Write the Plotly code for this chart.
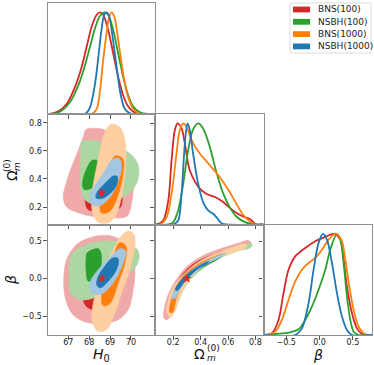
import plotly.graph_objects as go

W, H = 374, 365

SERIES = ["BNS(100)", "NSBH(100)", "BNS(1000)", "NSBH(1000)"]
COLORS = ["#d62728", "#2ca02c", "#ff7f0e", "#1f77b4"]
LIGHT = ["#f0a9a9", "#acd6a2", "#fdcfa1", "#a3c7e2"]

TRUTH_H0, TRUTH_OM, TRUTH_BETA = 68.6, 0.30, 0.0

H0_TICKS = [67, 68, 69, 70]
OM_TICKS = [0.2, 0.4, 0.6, 0.8]
OM_TICKTEXT = ["0.2", "0.4", "0.6", "0.8"]
BETA_TICKS = [-0.5, 0.0, 0.5]
BETA_TICKTEXT = ["\u22120.5", "0.0", "0.5"]
OM_PDF_TICKS = [0.17, 0.45, 0.73, 1.0]
BETA_PDF_TICKS = [0.182, 0.563, 0.927]

H0_RANGE = [66.03, 71.15]
OM_X_RANGE = [0.067, 0.859]
OM_Y_RANGE = [0.076, 0.862]
BETA_Y_RANGE = [-0.75, 0.717]
BETA_X_RANGE = [-0.84, 0.785]
PDF_RANGE = [0, 1.093]

# ---- 1D marginals (normalised to peak = 1) ----
H0_BNS100 = ([66.03, 66.12, 66.52, 66.92, 67.32, 67.64, 67.88, 68.12, 68.36, 68.52, 68.67, 68.91, 69.15, 69.39, 69.63, 69.87, 70.11, 70.43, 71.15],
             [0, 0, 0.026, 0.099, 0.265, 0.464, 0.662, 0.861, 0.977, 1.0, 0.977, 0.828, 0.596, 0.364, 0.182, 0.073, 0.023, 0, 0])
H0_NSBH100 = ([66.03, 66.20, 66.68, 67.08, 67.48, 67.80, 68.04, 68.28, 68.52, 68.75, 68.91, 69.15, 69.39, 69.63, 69.87, 70.11, 70.43, 70.83, 71.15],
              [0, 0, 0.033, 0.116, 0.281, 0.480, 0.662, 0.844, 0.967, 1.0, 0.977, 0.828, 0.596, 0.364, 0.182, 0.073, 0.017, 0, 0])
H0_BNS1000 = ([66.03, 68.12, 68.36, 68.52, 68.67, 68.83, 68.96, 69.07, 69.20, 69.39, 69.60, 69.82, 70.08, 70.43, 71.15],
              [0, 0, 0.050, 0.232, 0.530, 0.795, 0.960, 1.0, 0.960, 0.728, 0.430, 0.199, 0.060, 0, 0])
H0_NSBH1000 = ([66.03, 67.80, 68.04, 68.28, 68.44, 68.59, 68.72, 68.83, 68.96, 69.12, 69.31, 69.50, 69.71, 70.03, 71.15],
               [0, 0, 0.066, 0.298, 0.563, 0.828, 0.977, 1.0, 0.960, 0.762, 0.464, 0.199, 0.050, 0, 0])

OM_BNS100 = ([0.067, 0.079, 0.127, 0.164, 0.188, 0.212, 0.232, 0.261, 0.285, 0.321, 0.394, 0.442, 0.515, 0.564, 0.636, 0.709, 0.758, 0.806, 0.859],
             [0, 0, 0.040, 0.238, 0.636, 0.934, 1.0, 0.950, 0.801, 0.536, 0.354, 0.305, 0.265, 0.222, 0.139, 0.079, 0.056, 0, 0])
OM_NSBH100 = ([0.067, 0.164, 0.2, 0.236, 0.273, 0.309, 0.345, 0.382, 0.418, 0.467, 0.515, 0.564, 0.612, 0.661, 0.709, 0.782, 0.859],
              [0, 0, 0.023, 0.139, 0.404, 0.735, 0.940, 1.0, 0.950, 0.768, 0.520, 0.311, 0.172, 0.079, 0.033, 0, 0])
OM_BNS1000 = ([0.067, 0.103, 0.152, 0.188, 0.224, 0.248, 0.273, 0.297, 0.333, 0.394, 0.467, 0.539, 0.612, 0.661, 0.709, 0.758, 0.806, 0.859],
              [0, 0, 0.073, 0.305, 0.702, 0.934, 1.0, 0.967, 0.834, 0.702, 0.586, 0.470, 0.321, 0.205, 0.099, 0.033, 0, 0])
OM_NSBH1000 = ([0.067, 0.2, 0.236, 0.261, 0.285, 0.304, 0.321, 0.345, 0.382, 0.418, 0.455, 0.491, 0.515, 0.552, 0.588, 0.859],
               [0, 0, 0.040, 0.305, 0.801, 1.0, 0.934, 0.702, 0.404, 0.222, 0.139, 0.106, 0.073, 0.013, 0, 0])

BETA_BNS100 = ([-0.84, -0.715, -0.615, -0.54, -0.465, -0.365, -0.215, -0.065, 0.085, 0.21, 0.31, 0.36, 0.41, 0.485, 0.56, 0.635, 0.735, 0.785],
               [0, 0.017, 0.149, 0.414, 0.646, 0.778, 0.861, 0.927, 0.970, 1.0, 0.944, 0.745, 0.480, 0.215, 0.066, 0.010, 0, 0])
BETA_NSBH100 = ([-0.84, -0.815, -0.665, -0.465, -0.315, -0.215, -0.115, -0.015, 0.085, 0.16, 0.26, 0.31, 0.36, 0.41, 0.46, 0.51, 0.585, 0.785],
                [0, 0, 0.010, 0.023, 0.056, 0.149, 0.281, 0.447, 0.646, 0.844, 1.0, 0.944, 0.712, 0.381, 0.149, 0.033, 0, 0])
BETA_BNS1000 = ([-0.84, -0.815, -0.665, -0.565, -0.465, -0.365, -0.265, -0.165, -0.065, 0.035, 0.135, 0.235, 0.325, 0.385, 0.445, 0.51, 0.585, 0.685, 0.76, 0.785],
                [0, 0, 0.033, 0.149, 0.348, 0.530, 0.646, 0.712, 0.762, 0.844, 0.944, 1.0, 0.944, 0.745, 0.480, 0.248, 0.083, 0.007, 0, 0])
BETA_NSBH1000 = ([-0.84, -0.365, -0.265, -0.165, -0.09, -0.015, 0.05, 0.11, 0.185, 0.26, 0.335, 0.41, 0.485, 0.785],
                 [0, 0, 0.066, 0.315, 0.646, 0.911, 1.0, 0.944, 0.712, 0.414, 0.182, 0.050, 0, 0])

# ---- 2D credible-region outlines (outer = 95%, inner = 68%) ----
H0_OM_BNS100_OUT = [(67.85, 0.752), (68.36, 0.760), (68.83, 0.743), (69.23, 0.688), (69.79, 0.581), (70.11, 0.462), (70.11, 0.319), (69.95, 0.176), (69.79, 0.133), (68.99, 0.124), (68.20, 0.133), (67.40, 0.164), (66.92, 0.200), (66.76, 0.267), (66.89, 0.367), (67.16, 0.486), (67.48, 0.605), (67.72, 0.700)]
H0_OM_BNS100_IN = [(68.04, 0.510), (68.67, 0.557), (69.23, 0.510), (69.55, 0.367), (69.50, 0.200), (69.15, 0.176), (68.52, 0.176), (67.96, 0.181), (67.80, 0.248), (67.80, 0.390)]
H0_OM_NSBH100_OUT = [(67.64, 0.664), (68.36, 0.671), (69.15, 0.633), (69.95, 0.581), (70.35, 0.498), (70.30, 0.379), (69.87, 0.295), (69.07, 0.236), (68.28, 0.219), (67.80, 0.252), (67.61, 0.331), (67.59, 0.486), (67.61, 0.605)]
H0_OM_NSBH100_IN = [(68.16, 0.533), (68.52, 0.521), (68.59, 0.450), (68.39, 0.379), (68.07, 0.331), (67.75, 0.326), (67.69, 0.379), (67.85, 0.462)]
H0_OM_BNS1000_OUT = [(69.07, 0.790), (69.47, 0.767), (69.71, 0.676), (69.76, 0.533), (69.66, 0.367), (69.47, 0.224), (69.23, 0.129), (68.86, 0.086), (68.44, 0.093), (68.16, 0.164), (68.16, 0.319), (68.36, 0.486), (68.59, 0.652), (68.80, 0.748)]
H0_OM_BNS1000_IN = [(69.23, 0.562), (69.60, 0.545), (69.60, 0.414), (69.34, 0.267), (68.99, 0.171), (68.59, 0.157), (68.52, 0.236), (68.71, 0.355), (68.96, 0.474)]
H0_OM_NSBH1000_OUT = [(69.12, 0.538), (69.44, 0.545), (69.55, 0.486), (69.39, 0.386), (69.03, 0.276), (68.52, 0.212), (68.12, 0.219), (68.04, 0.283), (68.32, 0.362), (68.75, 0.457)]
H0_OM_NSBH1000_IN = [(69.12, 0.419), (69.34, 0.419), (69.31, 0.355), (68.99, 0.295), (68.59, 0.260), (68.32, 0.267), (68.39, 0.307), (68.67, 0.355), (68.91, 0.390)]

H0_BETA_BNS100_OUT = [(67.40, 0.453), (68.04, 0.542), (68.83, 0.573), (69.47, 0.520), (70.03, 0.387), (70.19, 0.120), (70.11, -0.147), (69.87, -0.413), (69.39, -0.547), (68.52, -0.600), (67.72, -0.569), (67.16, -0.458), (66.84, -0.236), (66.79, 0.031), (66.92, 0.253)]
H0_BETA_BNS100_IN = [(67.91, 0.320), (68.52, 0.387), (69.15, 0.320), (69.47, 0.120), (69.31, -0.191), (68.83, -0.369), (68.20, -0.413), (67.80, -0.347), (67.69, -0.102), (67.72, 0.164)]
H0_BETA_NSBH100_OUT = [(67.16, 0.320), (67.88, 0.453), (68.83, 0.498), (69.79, 0.467), (70.35, 0.364), (70.30, 0.187), (69.71, 0.031), (68.91, -0.138), (68.20, -0.258), (67.56, -0.280), (67.11, -0.191), (67.05, 0.076)]
H0_BETA_NSBH100_IN = [(67.91, 0.342), (68.44, 0.396), (68.59, 0.298), (68.52, 0.120), (68.28, -0.013), (67.96, -0.036), (67.85, 0.120), (67.85, 0.253)]
H0_BETA_BNS1000_OUT = [(69.87, 0.631), (70.14, 0.587), (70.19, 0.431), (69.95, 0.120), (69.55, -0.191), (69.23, -0.458), (68.83, -0.680), (68.44, -0.702), (68.16, -0.591), (68.20, -0.324), (68.52, -0.013), (68.99, 0.298), (69.47, 0.542)]
H0_BETA_BNS1000_IN = [(69.47, 0.476), (69.76, 0.431), (69.71, 0.209), (69.39, -0.058), (68.99, -0.333), (68.67, -0.360), (68.59, -0.236), (68.83, 0.031), (69.15, 0.298)]
H0_BETA_NSBH1000_OUT = [(69.47, 0.396), (69.74, 0.364), (69.63, 0.209), (69.15, -0.058), (68.52, -0.213), (68.12, -0.191), (68.04, -0.058), (68.44, 0.120), (68.99, 0.276)]
H0_BETA_NSBH1000_IN = [(69.15, 0.276), (69.39, 0.262), (69.31, 0.120), (68.91, -0.036), (68.52, -0.124), (68.36, -0.080), (68.44, 0.031), (68.75, 0.164)]

OM_BETA_BNS100_OUT = [(0.132, -0.522), (0.139, -0.357), (0.171, -0.179), (0.224, -0.013), (0.285, 0.134), (0.370, 0.254), (0.467, 0.344), (0.576, 0.415), (0.673, 0.469), (0.745, 0.504), (0.770, 0.469), (0.745, 0.424), (0.661, 0.388), (0.564, 0.326), (0.467, 0.237), (0.382, 0.134), (0.309, 0.0), (0.253, -0.156), (0.212, -0.313), (0.181, -0.491), (0.156, -0.549)]
OM_BETA_BNS100_IN = [(0.165, -0.40), (0.19, -0.2), (0.24, -0.02), (0.30, 0.12), (0.38, 0.23), (0.48, 0.31), (0.58, 0.37), (0.60, 0.35), (0.49, 0.29), (0.39, 0.20), (0.31, 0.07), (0.26, -0.07), (0.215, -0.24), (0.19, -0.41)]
OM_BETA_NSBH100_OUT = [(0.176, -0.424), (0.2, -0.246), (0.248, -0.067), (0.309, 0.076), (0.394, 0.201), (0.503, 0.299), (0.612, 0.371), (0.709, 0.433), (0.758, 0.469), (0.777, 0.446), (0.758, 0.402), (0.685, 0.371), (0.588, 0.308), (0.491, 0.223), (0.406, 0.121), (0.333, 0.0), (0.273, -0.156), (0.236, -0.313), (0.205, -0.446)]
OM_BETA_NSBH100_IN = [(0.20, -0.30), (0.24, -0.10), (0.31, 0.06), (0.40, 0.17), (0.50, 0.26), (0.55, 0.29), (0.51, 0.24), (0.41, 0.14), (0.33, 0.02), (0.27, -0.12), (0.22, -0.30)]
OM_BETA_BNS1000_OUT = [(0.152, -0.446), (0.164, -0.290), (0.195, -0.134), (0.248, 0.0), (0.321, 0.134), (0.418, 0.254), (0.527, 0.344), (0.636, 0.415), (0.721, 0.460), (0.738, 0.433), (0.709, 0.388), (0.612, 0.335), (0.515, 0.268), (0.430, 0.179), (0.358, 0.067), (0.297, -0.067), (0.253, -0.223), (0.219, -0.402), (0.181, -0.513)]
OM_BETA_BNS1000_IN = [(0.175, -0.45), (0.19, -0.25), (0.23, -0.08), (0.30, 0.08), (0.40, 0.21), (0.50, 0.29), (0.56, 0.33), (0.54, 0.30), (0.44, 0.21), (0.34, 0.08), (0.27, -0.07), (0.225, -0.25), (0.195, -0.45)]
OM_BETA_NSBH1000_OUT = [(0.19, -0.26), (0.22, -0.12), (0.27, 0.0), (0.34, 0.12), (0.44, 0.23), (0.55, 0.32), (0.58, 0.34), (0.57, 0.31), (0.47, 0.22), (0.37, 0.10), (0.30, -0.02), (0.25, -0.14), (0.21, -0.27)]
OM_BETA_NSBH1000_IN = [(0.215, -0.15), (0.25, -0.04), (0.31, 0.07), (0.39, 0.17), (0.46, 0.23), (0.45, 0.20), (0.38, 0.13), (0.32, 0.03), (0.27, -0.07), (0.23, -0.16)]

H0_PDFS = [H0_BNS100, H0_NSBH100, H0_BNS1000, H0_NSBH1000]
OM_PDFS = [OM_BNS100, OM_NSBH100, OM_BNS1000, OM_NSBH1000]
BETA_PDFS = [BETA_BNS100, BETA_NSBH100, BETA_BNS1000, BETA_NSBH1000]
H0_OM = [(H0_OM_BNS100_OUT, H0_OM_BNS100_IN), (H0_OM_NSBH100_OUT, H0_OM_NSBH100_IN),
         (H0_OM_BNS1000_OUT, H0_OM_BNS1000_IN), (H0_OM_NSBH1000_OUT, H0_OM_NSBH1000_IN)]
H0_BETA = [(H0_BETA_BNS100_OUT, H0_BETA_BNS100_IN), (H0_BETA_NSBH100_OUT, H0_BETA_NSBH100_IN),
           (H0_BETA_BNS1000_OUT, H0_BETA_BNS1000_IN), (H0_BETA_NSBH1000_OUT, H0_BETA_NSBH1000_IN)]
OM_BETA = [(OM_BETA_BNS100_OUT, OM_BETA_BNS100_IN), (OM_BETA_NSBH100_OUT, OM_BETA_NSBH100_IN),
           (OM_BETA_BNS1000_OUT, OM_BETA_BNS1000_IN), (OM_BETA_NSBH1000_OUT, OM_BETA_NSBH1000_IN)]

fig = go.Figure()

def add_pdf(curves, ax):
    for i, (xs, ys) in enumerate(curves):
        fig.add_trace(go.Scatter(x=xs, y=ys, mode="lines", xaxis="x" + ax, yaxis="y" + ax,
                                 line=dict(color=COLORS[i], width=1.8, shape="spline", smoothing=0.9),
                                 showlegend=False, hoverinfo="skip", cliponaxis=True))

def add_contours(sets, ax):
    for i, (outer, inner) in enumerate(sets):
        for level, pts in (("out", outer), ("in", inner)):
            xs = [p[0] for p in pts] + [pts[0][0]]
            ys = [p[1] for p in pts] + [pts[0][1]]
            col = LIGHT[i] if level == "out" else COLORS[i]
            fig.add_trace(go.Scatter(x=xs, y=ys, mode="lines", fill="toself", fillcolor=col,
                                     xaxis="x" + ax, yaxis="y" + ax,
                                     line=dict(color=col, width=0.6, shape="spline", smoothing=1.0),
                                     name=SERIES[i], showlegend=False, hoverinfo="skip"))

def add_truth(x, y, ax):
    fig.add_trace(go.Scatter(x=[x], y=[y], mode="markers", xaxis="x" + ax, yaxis="y" + ax,
                             marker=dict(symbol="star", size=7, color="#ff1a1a"),
                             showlegend=False, hoverinfo="skip"))

add_pdf(H0_PDFS, "")
add_contours(H0_OM, "2")
add_truth(TRUTH_H0, TRUTH_OM, "2")
add_pdf(OM_PDFS, "3")
add_contours(H0_BETA, "4")
add_truth(TRUTH_H0, TRUTH_BETA, "4")
add_contours(OM_BETA, "5")
add_truth(TRUTH_OM, TRUTH_BETA, "5")
add_pdf(BETA_PDFS, "6")

COLS = [[48 / W, 155 / W], [155 / W, 263.5 / W], [263.5 / W, 372 / W]]
ROWS = [[1 - 114 / H, 1 - 3 / H], [1 - 224.5 / H, 1 - 114 / H], [1 - 335 / H, 1 - 224.5 / H]]

TICKFONT = dict(size=8, color="#222222", family="DejaVu Sans")

def axis(domain, rng, anchor, tickvals=None, ticktext=None, labels=False, standoff=0):
    d = dict(domain=domain, range=rng, anchor=anchor, showline=True, mirror=True,
             linecolor="#8f8f8f", linewidth=1.2, showgrid=False, zeroline=False,
             tickfont=TICKFONT, showticklabels=labels, fixedrange=True,
             ticklabelstandoff=standoff)
    if tickvals is None:
        d.update(ticks="", tickvals=[])
    else:
        d.update(ticks="outside", ticklen=3.5, tickwidth=1, tickcolor="#555555", tickvals=tickvals)
        if ticktext is not None:
            d["ticktext"] = ticktext
    return d

fig.update_layout(
    width=W, height=H, autosize=False, margin=dict(l=0, r=0, t=0, b=0, pad=0),
    paper_bgcolor="white", plot_bgcolor="white", showlegend=False,
    xaxis=axis(COLS[0], H0_RANGE, "y", H0_TICKS),
    yaxis=axis(ROWS[0], PDF_RANGE, "x"),
    xaxis2=axis(COLS[0], H0_RANGE, "y2", H0_TICKS),
    yaxis2=axis(ROWS[1], OM_Y_RANGE, "x2", OM_TICKS, OM_TICKTEXT, labels=True),
    xaxis3=axis(COLS[1], OM_X_RANGE, "y3", OM_TICKS),
    yaxis3=axis(ROWS[1], PDF_RANGE, "x3", OM_PDF_TICKS),
    xaxis4=axis(COLS[0], H0_RANGE, "y4", H0_TICKS, labels=True, standoff=-4),
    yaxis4=axis(ROWS[2], BETA_Y_RANGE, "x4", BETA_TICKS, BETA_TICKTEXT, labels=True),
    xaxis5=axis(COLS[1], OM_X_RANGE, "y5", OM_TICKS, OM_TICKTEXT, labels=True, standoff=-4),
    yaxis5=axis(ROWS[2], BETA_Y_RANGE, "x5", BETA_TICKS),
    xaxis6=axis(COLS[2], BETA_X_RANGE, "y6", BETA_TICKS, BETA_TICKTEXT, labels=True, standoff=-4),
    yaxis6=axis(ROWS[2], PDF_RANGE, "x6", BETA_PDF_TICKS),
)

# ---- legend box (top right), built from SERIES / COLORS ----
LEG_X0, LEG_X1, LEG_Y0, LEG_Y1 = 290, 371, 3, 53
LEG_ROW0, LEG_STEP = 9.5, 12.3
fig.add_shape(type="rect", xref="paper", yref="paper",
              x0=LEG_X0 / W, x1=LEG_X1 / W, y0=1 - LEG_Y1 / H, y1=1 - LEG_Y0 / H,
              line=dict(color="#dcdcdc", width=1), fillcolor="rgba(255,255,255,0.9)")
for i, name in enumerate(SERIES):
    yc = LEG_ROW0 + i * LEG_STEP
    fig.add_shape(type="rect", xref="paper", yref="paper",
                  x0=293 / W, x1=310 / W, y0=1 - (yc + 2.9) / H, y1=1 - (yc - 2.9) / H,
                  line=dict(width=0), fillcolor=COLORS[i])
    fig.add_annotation(text=name, xref="paper", yref="paper", x=316 / W, y=1 - yc / H,
                       xanchor="left", yanchor="middle", showarrow=False,
                       font=dict(size=9, family="DejaVu Sans", color="#222"))

LABEL_FONT = dict(size=14, family="DejaVu Sans", color="#111")
SMALL_FONT = dict(size=9, family="DejaVu Sans", color="#111")
ann = [
    dict(text="<i>H</i><sub>0</sub>", x=101 / W, y=1 - 355 / H, font=LABEL_FONT),
    dict(text="\u03a9", x=199 / W, y=1 - 354 / H, font=LABEL_FONT),
    dict(text="(0)", x=205 / W, y=1 - 348 / H, font=SMALL_FONT, xanchor="left"),
    dict(text="<i>m</i>", x=205 / W, y=1 - 358 / H, font=SMALL_FONT, xanchor="left"),
    dict(text="<i>\u03b2</i>", x=318 / W, y=1 - 355 / H, font=LABEL_FONT),
    dict(text="<i>\u03b2</i>", x=11 / W, y=1 - 280 / H, font=LABEL_FONT, textangle=-90),
    dict(text="\u03a9", x=12 / W, y=1 - 176 / H, font=LABEL_FONT, textangle=-90),
    dict(text="(0)", x=7 / W, y=1 - 165 / H, font=SMALL_FONT, textangle=-90),
    dict(text="<i>m</i>", x=17 / W, y=1 - 167 / H, font=SMALL_FONT, textangle=-90),
]
for a in ann:
    base = dict(xref="paper", yref="paper", showarrow=False, xanchor="center", yanchor="middle")
    base.update(a)
    fig.add_annotation(**base)

POST = ("document.documentElement.style.margin='0';document.body.style.margin='0';"
        "document.body.style.padding='0';document.body.style.overflow='hidden';"
        "var gd=document.getElementById('{plot_id}');"
        "Plotly.relayout(gd,{width:374,height:365});")
fig.write_html("out.html", config={"responsive": False, "displayModeBar": False}, post_script=POST)
